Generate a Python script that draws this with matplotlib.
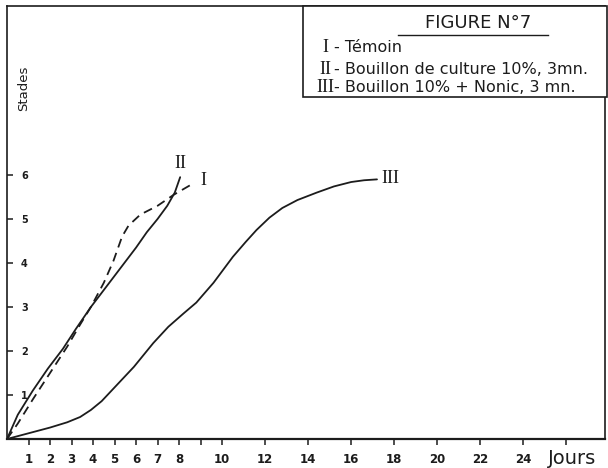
import matplotlib
matplotlib.use("Agg")
import matplotlib.pyplot as plt

# ---- data ----
days_I = [0, 0.5, 1.2, 2.0, 2.8, 3.4, 3.9, 4.5, 4.95, 5.35, 5.65, 6.2, 7.0, 7.75, 8.7]
stage_I = [0, 0.35, 0.9, 1.5, 2.1, 2.6, 3.0, 3.55, 4.05, 4.6, 4.85, 5.1, 5.3, 5.55, 5.82]

days_II = [0, 0.5, 1.2, 1.9, 2.6, 3.2, 3.9, 4.6, 5.3, 6.0, 6.5, 7.0, 7.45, 7.8, 8.05]
stage_II = [0, 0.55, 1.1, 1.6, 2.05, 2.5, 3.0, 3.45, 3.9, 4.35, 4.7, 5.0, 5.3, 5.6, 5.95]

days_III = [0, 1.0, 2.0, 2.8, 3.4, 3.9, 4.4, 4.9, 5.9, 6.8, 7.5, 8.2, 8.8, 9.6, 10.5,
            11.1, 11.6, 12.2, 12.8, 13.5, 14.4, 15.2, 16.0, 16.6, 17.2]
stage_III = [0, 0.13, 0.26, 0.38, 0.5, 0.66, 0.86, 1.12, 1.64, 2.18, 2.55, 2.85, 3.1,
             3.55, 4.14, 4.48, 4.75, 5.03, 5.25, 5.43, 5.6, 5.74, 5.84, 5.88, 5.9]

x_ticks = [1, 2, 3, 4, 5, 6, 7, 8, 9, 10, 12, 14, 16, 18, 20, 22, 24, 26]
x_tick_labels = ["1", "2", "3", "4", "5", "6", "7", "8", "", "10", "12", "14",
                 "16", "18", "20", "22", "24", ""]
y_ticks = [1, 2, 3, 4, 5, 6]
y_tick_labels = ["1", "2", "3", "4", "5", "6"]

legend_numerals = ["I", "II", "III"]
legend_texts = ["- Témoin", "- Bouillon de culture 10%, 3mn.", "- Bouillon 10% + Nonic, 3 mn."]
title_text = "FIGURE N°7"

INK = "#1c1c1c"

fig = plt.figure(figsize=(6.08, 4.68), dpi=100)
fig.patch.set_facecolor("white")
ax = fig.add_axes([7 / 608, 1 - 439 / 468, (605 - 7) / 608, (439 - 6) / 468])
ax.set_xlim(0, 27.8)
ax.set_ylim(0, 9.84)

ax.plot(days_I, stage_I, color=INK, lw=1.3, dashes=(5, 3.2), solid_capstyle="round")
ax.plot(days_II, stage_II, color=INK, lw=1.3, solid_capstyle="round", solid_joinstyle="round")
ax.plot(days_III, stage_III, color=INK, lw=1.3, solid_capstyle="round", solid_joinstyle="round")

serif = ["Liberation Serif", "DejaVu Serif"]
ax.text(days_II[-1], stage_II[-1] + 0.3, "II", family=serif, fontsize=13,
        ha="center", va="center", color=INK)
ax.text(days_I[-1] + 0.45, stage_I[-1] + 0.05, "I", family=serif, fontsize=13,
        ha="center", va="center", color=INK)
ax.text(days_III[-1] + 0.6, stage_III[-1] + 0.03, "III", family=serif, fontsize=13,
        ha="center", va="center", color=INK)

for sp in ax.spines.values():
    sp.set_color(INK)
    sp.set_linewidth(1.2)
ax.spines["bottom"].set_linewidth(1.6)

ax.set_xticks(x_ticks)
ax.set_xticklabels(x_tick_labels)
ax.tick_params(axis="x", direction="out", length=4, width=1.1, colors=INK,
               labelsize=8.5, pad=6)
for lbl in ax.get_xticklabels():
    lbl.set_fontweight("bold")

ax.set_yticks(y_ticks)
ax.set_yticklabels(y_tick_labels)
ax.tick_params(axis="y", direction="in", length=4, width=1.1, colors=INK,
               labelsize=7, pad=-10)
for lbl in ax.get_yticklabels():
    lbl.set_ha("left")
    lbl.set_fontweight("bold")

# axis titles
fig.text(24 / 608, 1 - 88 / 468, "Stades", rotation=90, ha="center", va="center",
         fontsize=9.5, color=INK)
fig.text(572 / 608, 1 - 458 / 468, "Jours", ha="center", va="center",
         fontsize=14, color=INK)

# legend box
box = plt.Rectangle((303 / 608, 1 - 97 / 468), (607 - 303) / 608, (97 - 6) / 468,
                    transform=fig.transFigure, fill=True, facecolor="white",
                    edgecolor=INK, lw=1.2, zorder=5)
fig.add_artist(box)
fig.text(478 / 608, 1 - 23 / 468, title_text, ha="center", va="center",
         fontsize=13, color=INK, zorder=6)
fig.add_artist(plt.Line2D([398 / 608, 548 / 608], [1 - 35 / 468, 1 - 35 / 468],
                          transform=fig.transFigure, color=INK, lw=1.0, zorder=6))
row_y = [47, 69, 87]
for num, txt, yy in zip(legend_numerals, legend_texts, row_y):
    fig.text(325 / 608, 1 - yy / 468, num, family=serif, ha="center", va="center",
             fontsize=13, color=INK, zorder=6)
    fig.text(334 / 608, 1 - yy / 468, txt, ha="left", va="center",
             fontsize=11.5, color=INK, zorder=6)

fig.savefig("out.png", dpi=100, facecolor="white")
